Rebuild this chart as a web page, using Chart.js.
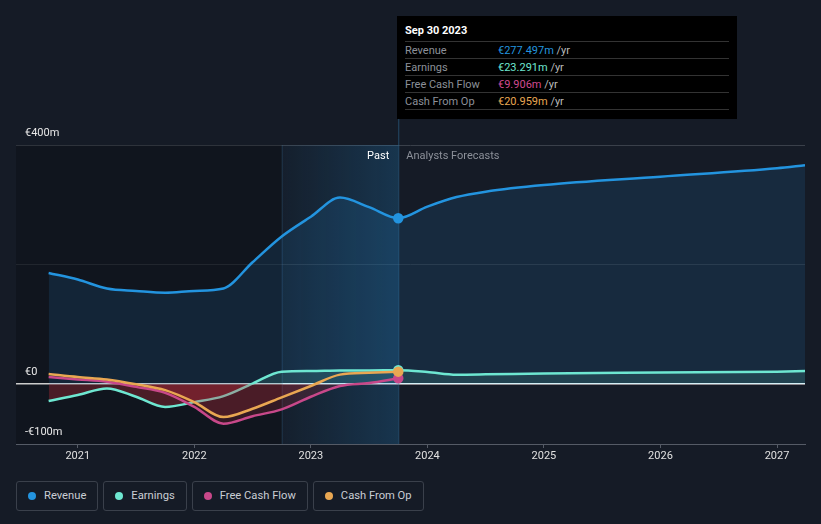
<!DOCTYPE html>
<html>
<head>
<meta charset="utf-8">
<script src="https://cdn.jsdelivr.net/npm/chart.js@4"></script>
<style>
  body { margin: 0; background: #151b26; font-family: Roboto, sans-serif; }
  #wrap { position: relative; width: 821px; height: 524px; overflow: hidden; }
  #chartBox { position: absolute; left: 0; top: 0; width: 821px; height: 470px; }
  #tip { position: absolute; left: 397px; top: 16px; width: 340px; height: 103px; background: #000; font-size: 11px; }
  #tip .title { position: absolute; left: 8px; top: 8px; color: #fff; font-weight: bold; }
  #tip .row { position: absolute; left: 8px; width: 324px; height: 17px; border-top: 1px solid #333; color: #8c9099; line-height: 17px; }
  #tip .row span.v { position: absolute; left: 93px; }
  #tip .row span.u { color: #bbb; }
  #tip .last { position: absolute; left: 8px; width: 324px; top: 93px; border-top: 1px solid #333; }
  #legend { position: absolute; left: 16px; top: 481px; display: flex; gap: 5px; }
  .item { height: 28px; border: 1px solid #3a404b; border-radius: 3px; color: #c9cdd4; font-size: 11.2px; line-height: 28px; padding: 0 11px 0 27px; position: relative; }
  .item i { position: absolute; left: 11px; top: 10px; width: 8px; height: 8px; border-radius: 50%; }
</style>
</head>
<body>
<div id="wrap">
  <div id="chartBox"><canvas id="myChart"></canvas></div>
  <div id="tip">
    <div class="title">Sep 30 2023</div>
    <div class="row" style="top:25px">Revenue<span class="v"><b style="font-weight:normal;color:#2394df">€277.497m</b> <span class="u">/yr</span></span></div>
    <div class="row" style="top:42px">Earnings<span class="v"><b style="font-weight:normal;color:#6ee7d1">€23.291m</b> <span class="u">/yr</span></span></div>
    <div class="row" style="top:59px">Free Cash Flow<span class="v"><b style="font-weight:normal;color:#d04a90">€9.906m</b> <span class="u">/yr</span></span></div>
    <div class="row" style="top:76px">Cash From Op<span class="v"><b style="font-weight:normal;color:#e9a752">€20.959m</b> <span class="u">/yr</span></span></div>
    <div class="last"></div>
  </div>
  <div id="legend">
    <div class="item"><i style="background:#2394df"></i>Revenue</div>
    <div class="item"><i style="background:#6ee7d1"></i>Earnings</div>
    <div class="item"><i style="background:#c8488a"></i>Free Cash Flow</div>
    <div class="item"><i style="background:#e9a752"></i>Cash From Op</div>
  </div>
</div>
<script>
// past quarters (decimal years)
const pastYears = [2020.75, 2021.0, 2021.25, 2021.5, 2021.75, 2022.0, 2022.25, 2022.5, 2022.75, 2023.0, 2023.25, 2023.5, 2023.75];
const revenuePast = [186, 175, 160, 156, 153, 156, 160, 204, 247, 280, 312, 296, 277.5];
const earningsPast = [-28, -18, -7, -21, -38, -30, -20, 1, 21, 22, 23, 23, 23.3];
const fcfPast = [12, 8, 4, -4.5, -14.5, -38, -66, -53.5, -42, -21, -3, 2, 9.9];
const cfoPast = [17, 12, 8, 0, -10, -30, -55, -41, -22, -3, 16, 19, 21];

// analyst forecasts
const forecastYears = [2024.0, 2024.25, 2024.5, 2025.0, 2026.0, 2027.0, 2027.24];
const revenueForecast = [297, 313, 322, 333, 347, 361, 366];
const earningsForecast = [20.5, 16, 16.5, 18, 19.5, 21, 22];

const yearTicks = [2021, 2022, 2023, 2024, 2025, 2026, 2027];
const yTicks = [-100, 0, 200, 400];
const yLabels = { '-100': '-€100m', '0': '€0', '400': '€400m' };

const pastStart = 2022.75;
const nowYear = 2023.75;

function toPoints(xs, ys) {
    return xs.map((x, i) => ({ x: x, y: ys[i] }));
}

function markerRadius(ctx) {
    return ctx.raw && ctx.raw.x === nowYear ? 4 : 0;
}

// Shaded past region, labels and marker line
const decorPlugin = {
    id: 'decor',
    beforeDatasetsDraw(chart) {
        const { ctx, chartArea: a, scales: { x } } = chart;
        const x0 = x.getPixelForValue(pastStart);
        const x1 = x.getPixelForValue(nowYear);
        ctx.save();
        ctx.fillStyle = 'rgba(0,0,0,0.2)';
        ctx.fillRect(a.left, a.top, x0 - a.left, a.bottom - a.top);
        const g = ctx.createLinearGradient(x0, 0, x1, 0);
        g.addColorStop(0, 'rgba(35,148,223,0.04)');
        g.addColorStop(1, 'rgba(35,148,223,0.22)');
        ctx.fillStyle = g;
        ctx.fillRect(x0, a.top, x1 - x0, a.bottom - a.top);
        ctx.strokeStyle = 'rgba(60,110,150,0.3)';
        ctx.lineWidth = 1;
        ctx.beginPath();
        ctx.moveTo(x0 + 0.5, a.top);
        ctx.lineTo(x0 + 0.5, a.bottom);
        ctx.stroke();
        ctx.strokeStyle = 'rgba(50,120,170,0.5)';
        ctx.beginPath();
        ctx.moveTo(x1 + 0.5, 119);
        ctx.lineTo(x1 + 0.5, a.bottom);
        ctx.stroke();
        ctx.restore();
    },
    afterDraw(chart) {
        const { ctx, chartArea: a, scales: { x, y } } = chart;
        const x1 = x.getPixelForValue(nowYear);
        ctx.save();
        ctx.font = '11px Roboto';
        ctx.textBaseline = 'middle';
        ctx.textAlign = 'right';
        ctx.fillStyle = '#ffffff';
        ctx.fillText('Past', x1 - 9, a.top + 11);
        ctx.textAlign = 'left';
        ctx.fillStyle = '#8c9099';
        ctx.fillText('Analysts Forecasts', x1 + 8, a.top + 11);
        ctx.fillStyle = '#e8e8e8';
        Object.keys(yLabels).forEach(k => {
            ctx.fillText(yLabels[k], a.left + 9, y.getPixelForValue(Number(k)) - 12);
        });
        ctx.restore();
    }
};

function renderChart(ctx) {
    return new Chart(ctx, {
        type: 'line',
        data: {
            datasets: [
                {
                    label: 'Revenue',
                    data: toPoints(pastYears.concat(forecastYears), revenuePast.concat(revenueForecast)),
                    borderColor: '#2394df',
                    backgroundColor: '#2394df',
                    borderWidth: 2.5,
                    fill: { target: 'origin', above: 'rgba(35,148,223,0.13)', below: 'rgba(0,0,0,0)' },
                    order: 4
                },
                {
                    label: 'Earnings',
                    data: toPoints(pastYears.concat(forecastYears), earningsPast.concat(earningsForecast)),
                    borderColor: '#6ee7d1',
                    backgroundColor: '#6ee7d1',
                    borderWidth: 2.5,
                    fill: { target: 'origin', above: 'rgba(110,231,209,0.13)', below: 'rgba(210,45,60,0.3)' },
                    order: 3
                },
                {
                    label: 'Free Cash Flow',
                    data: toPoints(pastYears, fcfPast),
                    borderColor: '#c8488a',
                    backgroundColor: '#c8488a',
                    borderWidth: 2.5,
                    fill: { target: 'origin', above: 'rgba(0,0,0,0)', below: 'rgba(210,45,60,0.18)' },
                    order: 2
                },
                {
                    label: 'Cash From Op',
                    data: toPoints(pastYears, cfoPast),
                    borderColor: '#e9a752',
                    backgroundColor: '#e9a752',
                    borderWidth: 2.5,
                    fill: { target: 'origin', above: 'rgba(0,0,0,0)', below: 'rgba(210,45,60,0.15)' },
                    order: 1
                }
            ]
        },
        options: {
            responsive: true,
            maintainAspectRatio: false,
            animation: false,
            layout: { padding: { left: 16, right: 16, top: 145, bottom: 0 } },
            elements: {
                line: { cubicInterpolationMode: 'monotone' },
                point: { radius: markerRadius, hoverRadius: markerRadius, borderColor: '#ffffff', borderWidth: 1 }
            },
            plugins: { legend: { display: false }, tooltip: { enabled: false } },
            events: [],
            scales: {
                x: {
                    type: 'linear',
                    min: 2020.47,
                    max: 2027.24,
                    afterBuildTicks: s => { s.ticks = yearTicks.map(v => ({ value: v })); },
                    afterFit: s => { s.height = 26; },
                    ticks: { color: '#e0e0e0', font: { family: 'Roboto', size: 11 }, padding: 2, callback: v => String(v) },
                    grid: { drawOnChartArea: false, color: '#555b66', tickLength: 4 },
                    border: { color: '#555b66' }
                },
                y: {
                    min: -100,
                    max: 400,
                    afterBuildTicks: s => { s.ticks = yTicks.map(v => ({ value: v })); },
                    afterFit: s => { s.width = 0; },
                    ticks: { display: false },
                    grid: {
                        color: c => c.tick.value === 0 ? '#ffffff' : (c.tick.value === 400 ? '#3a404a' : '#2a303a'),
                        lineWidth: c => c.tick.value === 0 ? 1.5 : 1,
                        drawTicks: false
                    },
                    border: { display: false }
                }
            }
        },
        plugins: [decorPlugin]
    });
}

window.onload = () => {
    renderChart(document.getElementById('myChart').getContext('2d'));
};
</script>
</body>
</html>
